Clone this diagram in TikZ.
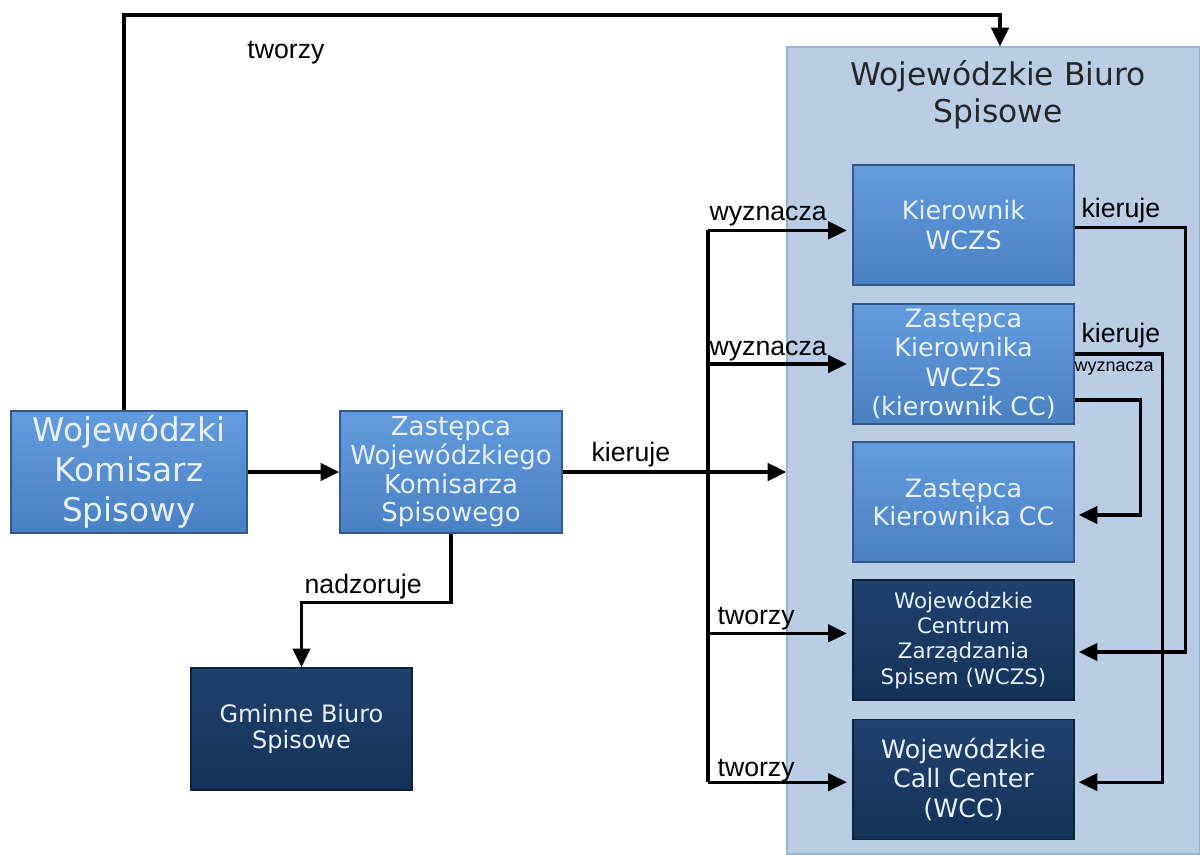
\documentclass[tikz,border=0pt]{standalone}
\usepackage{fontspec}
\setmainfont{Liberation Sans}
\newfontfamily\boxfont{DejaVu Sans}
\usetikzlibrary{arrows.meta}
\definecolor{wbsfill}{RGB}{185,205,229}
\definecolor{wbsedge}{RGB}{149,179,215}
\definecolor{midtop}{RGB}{98,155,222}
\definecolor{midbot}{RGB}{74,128,196}
\definecolor{midedge}{RGB}{52,88,136}
\definecolor{darktop}{RGB}{30,66,110}
\definecolor{darkbot}{RGB}{20,50,88}
\definecolor{darkedge}{RGB}{14,34,60}
\definecolor{boxtext}{RGB}{232,240,250}

\begin{document}
\begin{tikzpicture}[x=0.75pt,y=-0.75pt,
    arr/.style={line width=2.5pt,-{Triangle[length=14pt,width=13pt]}},
    conn/.style={line width=2.5pt},
    lbl/.style={font=\fontsize{20}{22}\selectfont,inner sep=1pt},
    midbox/.style={draw=midedge,line width=1.2pt,top color=midtop,bottom color=midbot,
        text=boxtext,align=center,inner sep=0pt,
        minimum width=165.75pt,minimum height=90pt},
    darkbox/.style={midbox,draw=darkedge,top color=darktop,bottom color=darkbot}]
\useasboundingbox (0,0) rectangle (1200,854);

% the office on the right
\node[draw=wbsedge,line width=1pt,fill=wbsfill,minimum width=309.75pt,minimum height=605.25pt,inner sep=0pt] (wbs) at (993.5,450.5) {};
\node[text=black!85,align=center,font=\boxfont\fontsize{23.5}{28}\selectfont] (title) at (998,95) {Wojewódzkie Biuro\\Spisowe};

% boxes
\node[midbox,minimum width=177pt,minimum height=91.5pt,font=\boxfont\fontsize{24.5}{30}\selectfont] (wks) at (129,472) {Wojewódzki\\Komisarz\\Spisowy};
\node[midbox,minimum width=166.5pt,minimum height=91.5pt,font=\boxfont\fontsize{19.5}{21.5}\selectfont] (zwks) at (451,472) {Zastępca\\Wojewódzkiego\\Komisarza\\Spisowego};
\node[darkbox,minimum height=91.5pt,font=\boxfont\fontsize{18}{20}\selectfont] (gbs) at (301.5,729) {Gminne Biuro\\Spisowe};
\node[midbox,font=\boxfont\fontsize{19}{22.5}\selectfont] (kw) at (963.5,225) {Kierownik\\WCZS};
\node[midbox,font=\boxfont\fontsize{19}{22}\selectfont] (zkw) at (963.5,364) {Zastępca\\Kierownika\\WCZS\\(kierownik CC)};
\node[midbox,font=\boxfont\fontsize{19}{21}\selectfont] (zkcc) at (963.5,502) {Zastępca\\Kierownika CC};
\node[darkbox,font=\boxfont\fontsize{16}{19}\selectfont] (wczs) at (963.5,640) {Wojewódzkie\\Centrum\\Zarządzania\\Spisem (WCZS)};
\node[darkbox,font=\boxfont\fontsize{19}{22}\selectfont] (wcc) at (963.5,779.5) {Wojewódzkie\\Call Center\\(WCC)};

% left part
\coordinate (top) at (1000,15);
\draw[arr] ([xshift=-3.75pt]wks.north) |- (top) -- (top |- wbs.north);
\node[lbl] (tw1) at (286,53) {tworzy};
\draw[arr] (wks.east) -- (zwks.west);
\draw[arr] (zwks.east) -- (wbs.west |- zwks.east);
\node[lbl,anchor=south west] (k1) at (590,469) {kieruje};
\draw[arr] (zwks.south) -- ++(0,69) -| (gbs.north);
\node[lbl,anchor=south west] (nadz) at (303,601) {nadzoruje};

% trunk to the office
\coordinate (tx) at (708,0);
\draw[conn] ([yshift=-4pt]kw.west -| tx) -- ([yshift=-2pt]wcc.west -| tx);
\draw[arr] ([yshift=-4pt]kw.west -| tx) -- ([xshift=-4pt,yshift=-4pt]kw.west);
\draw[arr] (zkw.west -| tx) -- ([xshift=-4pt]zkw.west);
\draw[arr] ([yshift=5pt]wczs.west -| tx) -- ([xshift=-4pt,yshift=5pt]wczs.west);
\draw[arr] ([yshift=-2pt]wcc.west -| tx) -- ([xshift=-4pt,yshift=-2pt]wcc.west);
\node[lbl,anchor=south west] (wy1) at (708,228) {wyznacza};
\node[lbl,anchor=south west] (wy2) at (708,363) {wyznacza};
\node[lbl,anchor=south west] (tw2) at (716,632) {tworzy};
\node[lbl,anchor=south west] (tw3) at (716,784) {tworzy};

% right side
\draw[arr] ([yshift=-2pt]kw.east) -- ++(111,0) |- ([xshift=3pt,yshift=-9pt]wczs.east);
\node[lbl,anchor=south west] (k2) at (1080,225) {kieruje};
\draw[arr] ([yshift=7.5pt]zkw.east) -- ++(88,0) |- ([xshift=3pt,yshift=-2pt]wcc.east);
\node[lbl,anchor=south west] (k3) at (1080,350) {kieruje};
\draw[arr] ([yshift=-27pt]zkw.east) -- ++(66,0) |- ([xshift=3pt,yshift=-9.75pt]zkcc.east);
\node[lbl,anchor=north west,font=\fontsize{13.5}{15}\selectfont] (wy3) at (1073,360) {wyznacza};
\end{tikzpicture}
\end{document}
